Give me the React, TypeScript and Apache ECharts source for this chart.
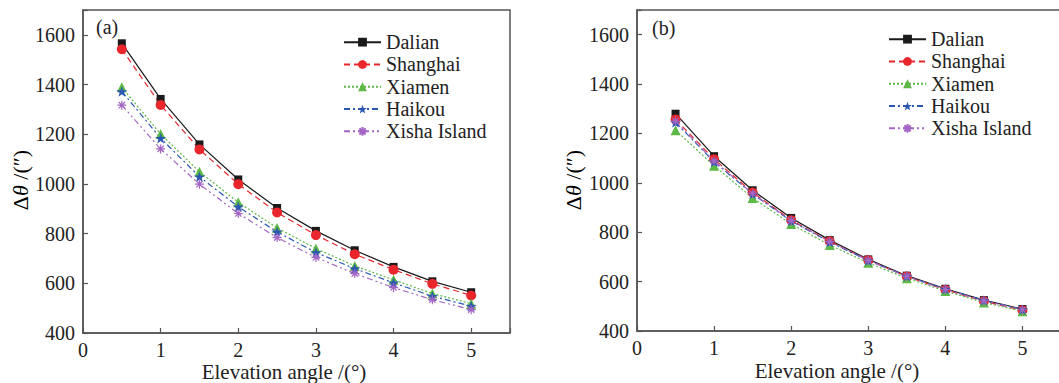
import React, { useEffect, useRef } from "react";
import * as echarts from "echarts";

const elevation = [0.5, 1, 1.5, 2, 2.5, 3, 3.5, 4, 4.5, 5];
const seriesNames = ["Dalian", "Shanghai", "Xiamen", "Haikou", "Xisha Island"];

// Panel (a)
const dalianA = [1566, 1342, 1159, 1018, 903, 811, 733, 666, 608, 564];
const shanghaiA = [1542, 1318, 1139, 999, 885, 794, 717, 655, 598, 551];
const xiamenA = [1389, 1201, 1049, 926, 823, 740, 670, 614, 559, 518];
const haikouA = [1372, 1184, 1029, 908, 807, 724, 659, 602, 548, 508];
const xishaA = [1317, 1141, 999, 881, 784, 704, 639, 583, 534, 494];

// Panel (b)
const dalianB = [1280, 1108, 970, 858, 768, 690, 624, 571, 525, 489];
const shanghaiB = [1257, 1096, 961, 849, 763, 687, 621, 567, 520, 484];
const xiamenB = [1213, 1069, 939, 833, 748, 676, 614, 562, 515, 480];
const haikouB = [1245, 1085, 955, 845, 760, 685, 622, 570, 524, 487];
const xishaB = [1250, 1088, 957, 847, 762, 686, 621, 568, 522, 486];

const yTicks = [400, 600, 800, 1000, 1200, 1400, 1600];
const xTicks = [0, 1, 2, 3, 4, 5];
const xTitle = "Elevation angle /(°)";
const yTitle = "{d|Δ}{t|θ}{d| /(″)}";

const FONT = "Liberation Serif";
const AXIS_COLOR = "#555";
const TEXT_COLOR = "#222";

const colors = ["#1a1a1a", "#e8262b", "#5cb946", "#2a58b0", "#a466c4"];
const dashes: any[] = ["solid", [6, 4], [2, 2], [6, 3, 2, 3], [6, 3, 2, 3, 2, 3]];
const STAR =
  "path://M0,-10L2.35,-3.24L9.51,-3.09L3.8,1.24L5.88,8.09L0,4L-5.88,8.09L-3.8,1.24L-9.51,-3.09L-2.35,-3.24Z";
const ASTER =
  "path://M0,-5L0,5M-5,0L5,0M-3.5,-3.5L3.5,3.5M-3.5,3.5L3.5,-3.5";
const symbols = ["rect", "circle", "triangle", STAR, ASTER];
const symbolSizes = [8, 10, 10, 11, 9];

function buildSeries(panel: number, data: number[][]) {
  return data.map((vals, k) => ({
    name: seriesNames[k],
    type: "line",
    xAxisIndex: panel,
    yAxisIndex: panel,
    data: elevation.map((x, i) => [x, vals[i]]),
    symbol: symbols[k],
    symbolSize: symbolSizes[k],
    symbolKeepAspect: true,
    showAllSymbol: true,
    lineStyle: { color: colors[k], width: 1.2, type: dashes[k] },
    itemStyle:
      k === 4
        ? { color: "rgba(0,0,0,0)", borderColor: colors[k], borderWidth: 1.2 }
        : { color: colors[k], borderWidth: 0 },
    emphasis: { disabled: true },
  }));
}

function xAxisCfg(grid: number) {
  return {
    type: "value",
    gridIndex: grid,
    min: 0,
    max: 5.5,
    interval: 1,
    axisLine: { show: true, lineStyle: { color: AXIS_COLOR, width: 1.5 } },
    axisTick: { show: true, inside: true, length: 5, lineStyle: { color: AXIS_COLOR, width: 1.2 } },
    axisLabel: {
      fontFamily: FONT,
      fontSize: 20,
      color: TEXT_COLOR,
      margin: 7,
      formatter: (v: number) => (xTicks.includes(v) ? String(v) : ""),
    },
    splitLine: { show: false },
  };
}

function yAxisCfg(grid: number) {
  return {
    type: "value",
    gridIndex: grid,
    min: 400,
    max: 1700,
    interval: 200,
    axisLine: { show: true, lineStyle: { color: AXIS_COLOR, width: 1.5 } },
    axisTick: { show: true, inside: true, length: 5, lineStyle: { color: AXIS_COLOR, width: 1.2 } },
    axisLabel: {
      fontFamily: FONT,
      fontSize: 20,
      color: TEXT_COLOR,
      margin: 8,
      formatter: (v: number) => (yTicks.includes(v) ? String(v) : ""),
    },
    splitLine: { show: false },
  };
}

function legendCfg(left: number, top: number) {
  return {
    orient: "vertical",
    left,
    top,
    padding: 0,
    itemWidth: 37,
    itemHeight: 11,
    itemGap: 0,
    selectedMode: false,
    data: seriesNames,
    textStyle: { fontFamily: FONT, fontSize: 20, color: TEXT_COLOR, lineHeight: 22.3 },
  };
}

const richY = {
  d: { fontFamily: FONT, fontSize: 22, color: TEXT_COLOR },
  t: { fontFamily: FONT, fontSize: 22, fontStyle: "italic", color: TEXT_COLOR },
};

function xTitleText(cx: number, cy: number) {
  return {
    type: "text",
    x: cx,
    y: cy,
    style: { text: xTitle, fontFamily: FONT, fontSize: 21, fill: TEXT_COLOR, align: "center", verticalAlign: "middle" },
  };
}

function yTitleText(cx: number, cy: number) {
  return {
    type: "text",
    x: cx,
    y: cy,
    rotation: Math.PI / 2,
    style: { text: yTitle, rich: richY, align: "center", verticalAlign: "middle" },
  };
}

export default function App() {
  const ref = useRef<HTMLDivElement>(null);
  useEffect(() => {
    if (!ref.current) return;
    const chart = echarts.init(ref.current, null, { renderer: "svg" });
    chart.setOption({
      animation: false,
      backgroundColor: "#fff",
      textStyle: { fontFamily: FONT },
      grid: [
        {
          left: 83, top: 10, width: 427, height: 323, outerBoundsMode: "none", containLabel: false,
          show: true, borderColor: AXIS_COLOR, borderWidth: 1.5,
        },
        {
          left: 637, top: 10, width: 424, height: 321, outerBoundsMode: "none", containLabel: false,
          show: true, borderColor: AXIS_COLOR, borderWidth: 1.5,
        },
      ],
      xAxis: [xAxisCfg(0), xAxisCfg(1)],
      yAxis: [yAxisCfg(0), yAxisCfg(1)],
      legend: [legendCfg(343, 31), legendCfg(888, 28)],
      graphic: [
        { type: "text", left: 96, top: 17, style: { text: "(a)", fontFamily: FONT, fontSize: 20, fill: TEXT_COLOR } },
        { type: "text", left: 652, top: 18, style: { text: "(b)", fontFamily: FONT, fontSize: 20, fill: TEXT_COLOR } },
        xTitleText(284, 372),
        xTitleText(837, 371),
        yTitleText(20, 180),
        yTitleText(573, 180),
      ],
      series: [
        ...buildSeries(0, [dalianA, shanghaiA, xiamenA, haikouA, xishaA]),
        ...buildSeries(1, [dalianB, shanghaiB, xiamenB, haikouB, xishaB]),
      ],
    });
    return () => chart.dispose();
  }, []);
  return (
    <div
      ref={ref}
      style={{ position: "fixed", left: 0, top: 0, width: 1059, height: 383, background: "#fff" }}
    />
  );
}
